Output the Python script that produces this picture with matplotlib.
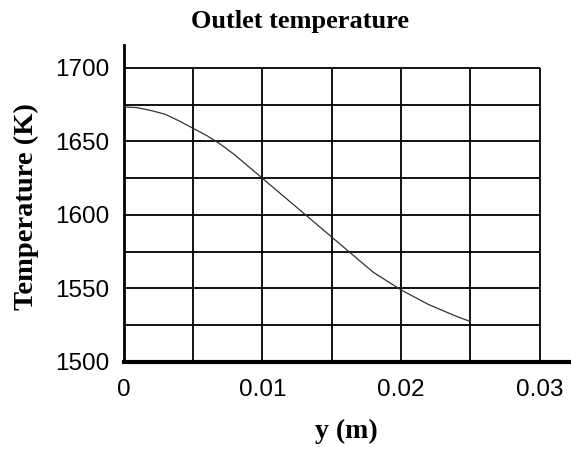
import matplotlib
matplotlib.use("Agg")
import matplotlib.pyplot as plt

# Outlet temperature profile across the channel
y_pos = [0.000, 0.001, 0.002, 0.003, 0.004, 0.005, 0.006, 0.007, 0.008,
         0.009, 0.010, 0.011, 0.012, 0.013, 0.014, 0.015, 0.016, 0.017,
         0.018, 0.019, 0.020, 0.021, 0.022, 0.023, 0.024, 0.025]
temp_k = [1673.5, 1673.0, 1671.0, 1668.5, 1664.0, 1659.0, 1654.0, 1648.0,
          1641.0, 1633.0, 1625.0, 1617.0, 1609.0, 1601.0, 1593.0, 1585.0,
          1577.0, 1569.0, 1561.0, 1555.0, 1549.0, 1544.0, 1539.0, 1535.0,
          1531.0, 1527.5]

x_ticks = [0, 0.01, 0.02, 0.03]
x_tick_labels = ["0", "0.01", "0.02", "0.03"]
y_ticks = [1500, 1550, 1600, 1650, 1700]
x_grid = [0.005, 0.010, 0.015, 0.020, 0.025, 0.030]
y_grid = [1525, 1550, 1575, 1600, 1625, 1650, 1675, 1700]

SANS = ["Liberation Sans", "DejaVu Sans"]
SERIF = ["Liberation Serif", "DejaVu Serif"]

fig = plt.figure(figsize=(5.71, 4.55), dpi=100)
ax = fig.add_axes([0.2163, 0.2044, 0.7817, 0.6967])

x_min, x_max = 0.0, 0.03216
t_min, t_max = 1500, 1715.6
ax.set_xlim(x_min, x_max)
ax.set_ylim(t_min, t_max)

# grid only spans the 0..0.03 / 1500..1700 box
ax.vlines(x_grid, t_min, 1700, colors="black", lw=1.3, zorder=1)
ax.hlines(y_grid, x_min, 0.03, colors="black", lw=1.3, zorder=1)

ax.plot(y_pos, temp_k, color="#333333", lw=0.9, zorder=3)

for side in ("top", "right"):
    ax.spines[side].set_visible(False)
ax.spines["left"].set_linewidth(2.0)
ax.spines["bottom"].set_linewidth(3.0)

ax.set_xticks(x_ticks)
ax.set_xticklabels(x_tick_labels, family=SANS, fontsize=17.5)
ax.set_yticks(y_ticks)
ax.set_yticklabels([str(v) for v in y_ticks], family=SANS, fontsize=17.5)
ax.tick_params(axis="x", length=0, pad=12)
ax.tick_params(axis="y", length=0, pad=10)

fig.text(0.526, 0.952, "Outlet temperature", family=SERIF, fontweight="bold",
         fontsize=19, ha="center", va="center")
fig.text(0.606, 0.052, "y (m)", family=SERIF, fontweight="bold",
         fontsize=20, ha="center", va="center")
fig.text(0.047, 0.547, "Temperature (K)", family=SERIF, fontweight="bold",
         fontsize=20.5, ha="center", va="center", rotation=90)

fig.savefig("out.png", dpi=100)
